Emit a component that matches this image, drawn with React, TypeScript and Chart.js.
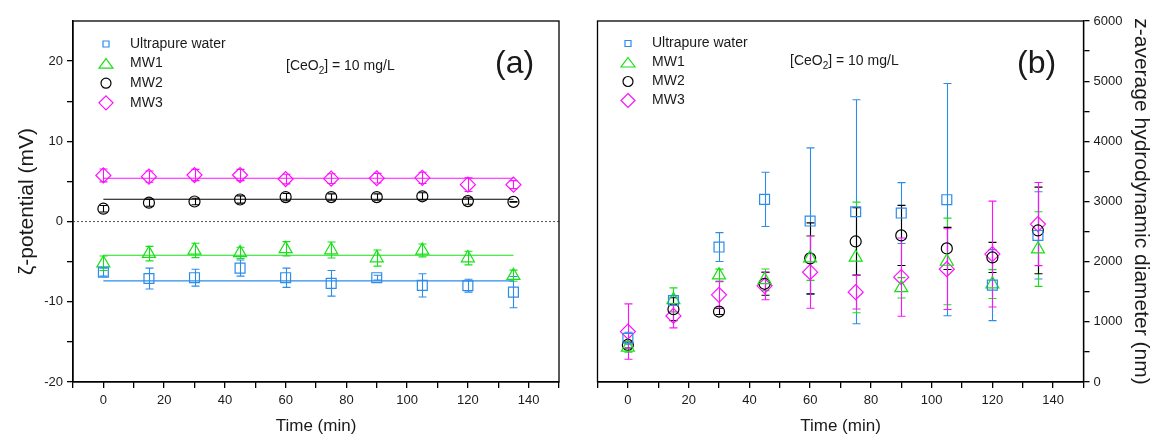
import React, { useEffect, useRef } from 'react';
import { Chart, registerables } from 'chart.js';

Chart.register(...registerables);
Chart.defaults.font.family = "'Liberation Sans', Arial, sans-serif";

// ---------- data ----------
const times = [0, 15, 30, 45, 60, 75, 90, 105, 120, 135];
const seriesNames = ['Ultrapure water', 'MW1', 'MW2', 'MW3'];

// (a) zeta potential (mV)
const zetaWater = [-6.3, -7.1, -7.0, -5.8, -7.0, -7.7, -7.0, -7.95, -8.0, -8.8];
const zetaWaterErr = [0.5, 1.3, 1.05, 1.0, 1.2, 1.6, 0.3, 1.45, 0.8, 1.95];
const zetaMW1 = [-5.2, -4.0, -3.6, -3.9, -3.4, -3.55, -4.55, -3.6, -4.55, -6.75];
const zetaMW1Err = [0.9, 0.9, 0.9, 0.7, 0.9, 1.0, 1.0, 0.8, 0.85, 0.7];
const zetaMW2 = [1.6, 2.35, 2.5, 2.75, 3.05, 3.05, 3.05, 3.15, 2.55, 2.45];
const zetaMW2Err = [0.4, 0.45, 0.4, 0.45, 0.45, 0.4, 0.4, 0.45, 0.4, 0.05];
const zetaMW3 = [5.75, 5.6, 5.8, 5.8, 5.3, 5.35, 5.4, 5.45, 4.6, 4.6];
const zetaMW3Err = [0.8, 0.7, 0.7, 0.7, 0.6, 0.6, 0.6, 0.7, 0.85, 0.5];
const zetaFits = [-7.4, -4.2, 2.78, 5.4];
const zeroLineY = 0;

// (b) z-average hydrodynamic diameter (nm)
const sizeWater = [727, 1354, 2243, 3035, 2675, 2830, 2808, 3030, 1610, 2436];
const sizeWaterErr = [100, 80, 240, 450, 1216, 1862, 505, 1930, 590, 725];
const sizeMW1 = [577, 1365, 1776, 1698, 2059, 2070, 1565, 2003, 1627, 2209];
const sizeMW1Err = [80, 200, 100, 180, 370, 920, 170, 720, 240, 620];
const sizeMW2 = [616, 1210, 1171, 1632, 2054, 2336, 2436, 2220, 2070, 2519];
const sizeMW2Err = [50, 190, 50, 190, 590, 560, 500, 350, 250, 720];
const sizeMW3 = [838, 1099, 1449, 1598, 1826, 1493, 1743, 1876, 2126, 2625];
const sizeMW3Err = [460, 200, 220, 230, 600, 280, 650, 670, 880, 690];

// axis setup
const xRange = [-10, 150];
const zetaRange = [-20, 25];
const sizeRange = [0, 6000];

// ---------- styles ----------
const colors = ['#2C8CEA', '#18E018', '#000000', '#FF10FF'];
const shapes = ['rect', 'triangle', 'circle', 'rectRot'];
const radii = [7, 7.5, 5.5, 7.5];
const TEXT = '#1a1a1a';
const FONT = "'Liberation Sans', Arial, sans-serif";

const pts = (ys: number[]) => ys.map((y, i) => ({ x: times[i], y }));

function markerDataset(i: number, ys: number[], errs: number[]) {
  return {
    type: 'line',
    label: seriesNames[i],
    data: pts(ys),
    errors: errs,
    showLine: false,
    borderColor: colors[i],
    backgroundColor: 'rgba(0,0,0,0)',
    pointStyle: shapes[i],
    pointRadius: radii[i],
    pointBorderWidth: 1.2,
    pointBackgroundColor: 'rgba(0,0,0,0)',
    pointBorderColor: colors[i],
  };
}

const errorBarPlugin = {
  id: 'errorBars',
  beforeDatasetsDraw(chart: any) {
    const ctx = chart.ctx;
    const xs = chart.scales.x;
    const ys = chart.scales.y;
    chart.data.datasets.forEach((ds: any) => {
      if (!ds.errors) return;
      ctx.save();
      ctx.strokeStyle = ds.borderColor;
      ctx.lineWidth = 1.1;
      ds.data.forEach((p: any, j: number) => {
        const e = ds.errors[j];
        if (!e) return;
        const x = Math.round(xs.getPixelForValue(p.x)) + 0.5;
        const y1 = ys.getPixelForValue(p.y + e);
        const y2 = ys.getPixelForValue(p.y - e);
        ctx.beginPath();
        ctx.moveTo(x, y1);
        ctx.lineTo(x, y2);
        ctx.moveTo(x - 4, y1);
        ctx.lineTo(x + 4, y1);
        ctx.moveTo(x - 4, y2);
        ctx.lineTo(x + 4, y2);
        ctx.stroke();
      });
      ctx.restore();
    });
  },
};

function drawMarker(ctx: CanvasRenderingContext2D, shape: string, x: number, y: number, color: string) {
  ctx.save();
  ctx.strokeStyle = color;
  ctx.lineWidth = 1.2;
  ctx.beginPath();
  if (shape === 'rect') {
    ctx.rect(x - 3, y - 3, 6, 6);
  } else if (shape === 'triangle') {
    ctx.moveTo(x, y - 5);
    ctx.lineTo(x + 7, y + 4.5);
    ctx.lineTo(x - 7, y + 4.5);
    ctx.closePath();
  } else if (shape === 'circle') {
    ctx.arc(x, y, 5, 0, Math.PI * 2);
  } else {
    ctx.moveTo(x, y - 7);
    ctx.lineTo(x + 7, y);
    ctx.lineTo(x, y + 7);
    ctx.lineTo(x - 7, y);
    ctx.closePath();
  }
  ctx.stroke();
  ctx.restore();
}

function makeAnnotPlugin(cfg: any) {
  return {
    id: 'annot',
    afterDraw(chart: any) {
      const ctx = chart.ctx as CanvasRenderingContext2D;
      const a = chart.chartArea;
      // frame
      ctx.save();
      ctx.strokeStyle = '#000';
      ctx.lineWidth = 1.3;
      ctx.strokeRect(a.left, a.top, a.right - a.left, a.bottom - a.top);
      ctx.restore();
      // legend
      ctx.save();
      ctx.fillStyle = TEXT;
      ctx.font = `14px ${FONT}`;
      ctx.textBaseline = 'middle';
      ctx.textAlign = 'left';
      seriesNames.forEach((name, i) => {
        const y = cfg.legendY + i * cfg.legendStep;
        drawMarker(ctx, shapes[i], cfg.markerX, y, colors[i]);
        ctx.fillText(name, cfg.textX, y);
      });
      // concentration label
      let x = cfg.concX;
      const cy = cfg.concY;
      ctx.fillText('[CeO', x, cy);
      x += ctx.measureText('[CeO').width;
      ctx.font = `10px ${FONT}`;
      ctx.fillText('2', x, cy + 5);
      x += ctx.measureText('2').width;
      ctx.font = `14px ${FONT}`;
      ctx.fillText('] = 10 mg/L', x, cy);
      // panel label
      ctx.font = `32px ${FONT}`;
      ctx.textBaseline = 'alphabetic';
      ctx.fillText(cfg.panel, cfg.panelX, cfg.panelY);
      ctx.restore();
    },
  };
}

const xScale = (title: string) => ({
  type: 'linear',
  position: 'bottom',
  min: xRange[0],
  max: xRange[1],
  afterFit: (s: any) => {
    s.height = 55;
  },
  ticks: {
    stepSize: 10,
    autoSkip: false,
    maxRotation: 0,
    padding: 5,
    color: TEXT,
    font: { size: 13 },
    callback: (v: any) => {
      const n = Math.round(Number(v));
      return n % 20 === 0 && n >= 0 && n <= 140 ? String(n) : '';
    },
  },
  grid: { drawOnChartArea: false, drawTicks: true, tickLength: 6, color: '#000', lineWidth: 1.3 },
  border: { display: true, color: '#000', width: 1.3 },
  title: { display: true, text: title, color: TEXT, font: { size: 17 }, padding: 0 },
});

function buildA() {
  const datasets: any[] = [
    {
      type: 'line',
      label: 'zero',
      data: [
        { x: xRange[0], y: zeroLineY },
        { x: xRange[1], y: zeroLineY },
      ],
      borderColor: '#555',
      borderWidth: 1,
      borderDash: [2, 2],
      pointRadius: 0,
    },
  ];
  const vals = [zetaWater, zetaMW1, zetaMW2, zetaMW3];
  vals.forEach((v, i) => {
    datasets.push({
      type: 'line',
      label: 'fit' + i,
      data: [
        { x: times[0], y: zetaFits[i] },
        { x: times[times.length - 1], y: zetaFits[i] },
      ],
      borderColor: colors[i],
      borderWidth: 1.2,
      pointRadius: 0,
    });
  });
  const errs = [zetaWaterErr, zetaMW1Err, zetaMW2Err, zetaMW3Err];
  vals.forEach((v, i) => datasets.push(markerDataset(i, v, errs[i])));
  return {
    type: 'line',
    data: { datasets },
    options: {
      animation: false,
      responsive: false,
      events: [],
      layout: { padding: { left: 0, top: 21, right: 21, bottom: 0 } },
      plugins: { legend: { display: false }, tooltip: { enabled: false } },
      scales: {
        x: xScale('Time (min)'),
        y: {
          type: 'linear',
          position: 'left',
          min: zetaRange[0],
          max: zetaRange[1],
          afterFit: (s: any) => {
            s.width = 73;
          },
          ticks: {
            stepSize: 5,
            autoSkip: false,
            padding: 4,
            color: TEXT,
            font: { size: 13 },
            callback: (v: any) => {
              const n = Math.round(Number(v));
              if (n > 20) return null;
              return n % 10 === 0 ? String(n) : '';
            },
          },
          grid: { drawOnChartArea: false, drawTicks: true, tickLength: 6, color: '#000', lineWidth: 1.3 },
          border: { display: true, color: '#000', width: 1.3 },
          title: { display: true, text: 'ζ-potential (mV)', color: TEXT, font: { size: 21 }, padding: { top: 15, bottom: 0 } },
        },
      },
    },
    plugins: [
      errorBarPlugin,
      makeAnnotPlugin({
        legendY: 44,
        legendStep: 19.6,
        markerX: 106,
        textX: 130,
        concX: 286,
        concY: 66,
        panel: '(a)',
        panelX: 495,
        panelY: 73,
      }),
    ],
  };
}

function buildB() {
  const vals = [sizeWater, sizeMW1, sizeMW2, sizeMW3];
  const errs = [sizeWaterErr, sizeMW1Err, sizeMW2Err, sizeMW3Err];
  const datasets: any[] = vals.map((v, i) => markerDataset(i, v, errs[i]));
  return {
    type: 'line',
    data: { datasets },
    options: {
      animation: false,
      responsive: false,
      events: [],
      layout: { padding: { left: 17.5, top: 21, right: 0, bottom: 0 } },
      plugins: { legend: { display: false }, tooltip: { enabled: false } },
      scales: {
        x: xScale('Time (min)'),
        y: {
          type: 'linear',
          position: 'right',
          min: sizeRange[0],
          max: sizeRange[1],
          afterFit: (s: any) => {
            s.width = 69.5;
          },
          ticks: {
            stepSize: 500,
            autoSkip: false,
            padding: 4,
            color: TEXT,
            font: { size: 13 },
            callback: (v: any) => {
              const n = Math.round(Number(v));
              return n % 1000 === 0 ? String(n) : '';
            },
          },
          grid: { drawOnChartArea: false, drawTicks: true, tickLength: 6, color: '#000', lineWidth: 1.3 },
          border: { display: true, color: '#000', width: 1.3 },
          title: {
            display: true,
            text: 'z-average hydrodynamic diameter (nm)',
            color: TEXT,
            font: { size: 21 },
            padding: { top: 0, bottom: 0 },
          },
        },
      },
    },
    plugins: [
      errorBarPlugin,
      makeAnnotPlugin({
        legendY: 43.5,
        legendStep: 19,
        markerX: 48,
        textX: 72,
        concX: 210,
        concY: 61,
        panel: '(b)',
        panelX: 437,
        panelY: 73,
      }),
    ],
  };
}

function ChartCanvas({ build, width, height, left }: { build: () => any; width: number; height: number; left: number }) {
  const ref = useRef<HTMLCanvasElement | null>(null);
  useEffect(() => {
    if (!ref.current) return;
    const chart = new Chart(ref.current, build());
    return () => chart.destroy();
  }, [build]);
  return (
    <canvas
      ref={ref}
      width={width}
      height={height}
      style={{ position: 'absolute', left, top: 0, width, height }}
    />
  );
}

export default function App() {
  return (
    <div style={{ position: 'absolute', left: 0, top: 0, width: 1153, height: 437, background: '#fff' }}>
      <ChartCanvas build={buildA} width={580} height={437} left={0} />
      <ChartCanvas build={buildB} width={573} height={437} left={580} />
    </div>
  );
}
